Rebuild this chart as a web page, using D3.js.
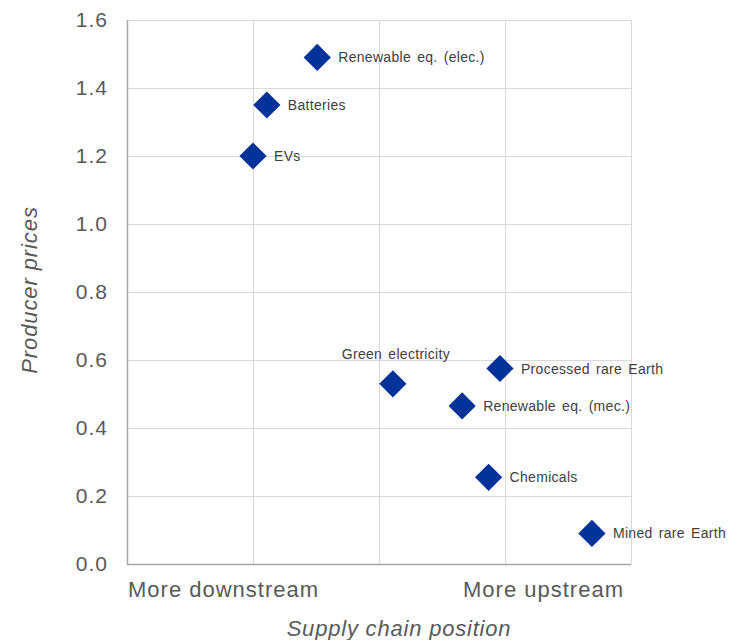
<!DOCTYPE html>
<html>
<head>
<meta charset="utf-8">
<script src="https://cdn.jsdelivr.net/npm/d3@7"></script>
<style>
  html, body { margin: 0; padding: 0; background: #fff; }
  svg { display: block; font-family: "Liberation Sans", Arial, sans-serif; }
</style>
</head>
<body>
<svg id="chart" width="730" height="640"></svg>
<script>
// Products along the supply chain
const products = ["Renewable eq. (elec.)", "Batteries", "EVs", "Green electricity",
  "Processed rare Earth", "Renewable eq. (mec.)", "Chemicals", "Mined rare Earth"];
// Position along the supply chain (0 = most downstream, 4 = most upstream)
const chainPosition = [1.51, 1.11, 1.00, 2.11, 2.96, 2.66, 2.87, 3.69];
// Producer prices
const producerPrices = [1.49, 1.35, 1.20, 0.53, 0.575, 0.465, 0.255, 0.09];
const yTicks = [0, 0.2, 0.4, 0.6, 0.8, 1.0, 1.2, 1.4, 1.6];
const xGrid = [0, 1, 2, 3, 4];
const xEndLabels = ["More downstream", "More upstream"];

const svg = d3.select("#chart");
const margin = { left: 127, right: 99, top: 20, bottom: 76 };
const W = 730 - margin.left - margin.right;
const H = 640 - margin.top - margin.bottom;

const x = d3.scaleLinear().domain([0, 4]).range([0, W]);
const y = d3.scaleLinear().domain([0, 1.6]).range([H, 0]);

const g = svg.append("g").attr("transform", `translate(${margin.left},${margin.top})`);

// Gridlines
g.append("g").selectAll("line").data(yTicks).join("line")
  .attr("x1", 0).attr("x2", W)
  .attr("y1", d => Math.round(y(d)) + 0.5).attr("y2", d => Math.round(y(d)) + 0.5)
  .attr("stroke", "#d9d9d9").attr("stroke-width", 1);
g.append("g").selectAll("line").data(xGrid).join("line")
  .attr("x1", d => Math.round(x(d)) + 0.5).attr("x2", d => Math.round(x(d)) + 0.5)
  .attr("y1", 0).attr("y2", H)
  .attr("stroke", "#d9d9d9").attr("stroke-width", 1);

// Axis lines
g.append("line").attr("x1", 0.5).attr("x2", 0.5).attr("y1", 0).attr("y2", H + 0.5)
  .attr("stroke", "#a6a6a6").attr("stroke-width", 1.5);
g.append("line").attr("x1", 0).attr("x2", W).attr("y1", H + 0.5).attr("y2", H + 0.5)
  .attr("stroke", "#a6a6a6").attr("stroke-width", 1.5);

// Y axis tick labels
const yAxis = d3.axisLeft(y).tickValues(yTicks).tickFormat(d3.format(".1f")).tickSize(0).tickPadding(19);
const ya = g.append("g").call(yAxis);
ya.select(".domain").remove();
ya.selectAll("text")
  .attr("fill", "#595959").style("font-size", "21px").style("letter-spacing", "1px")
  .style("font-family", "'Liberation Sans', Arial, sans-serif");

// Supply-chain end labels
g.append("text").attr("x", 1).attr("y", H + 33)
  .attr("fill", "#595959").style("font-size", "22px").style("letter-spacing", "1px")
  .text(xEndLabels[0]);
g.append("text").attr("x", W - 7).attr("y", H + 33).attr("text-anchor", "end")
  .attr("fill", "#595959").style("font-size", "22px").style("letter-spacing", "1px")
  .text(xEndLabels[1]);

// Axis titles
svg.append("text")
  .attr("transform", `translate(37,${margin.top + 270}) rotate(-90)`)
  .attr("text-anchor", "middle").attr("fill", "#595959")
  .style("font-size", "22px").style("font-style", "italic").style("letter-spacing", "0.9px")
  .text("Producer prices");
svg.append("text")
  .attr("x", 399).attr("y", 636).attr("text-anchor", "middle").attr("fill", "#595959")
  .style("font-size", "22px").style("font-style", "italic").style("letter-spacing", "0.8px")
  .text("Supply chain position");

// Points
const data = products.map((name, i) => ({ name, x: chainPosition[i], y: producerPrices[i] }));
const diamond = d3.symbol().type(d3.symbolSquare).size(370);
g.append("g").selectAll("path").data(data).join("path")
  .attr("d", diamond)
  .attr("transform", d => `translate(${x(d.x)},${y(d.y)}) rotate(45)`)
  .attr("fill", "#003299");

// Point labels (Green electricity sits above its marker)
const labelAbove = new Set(["Green electricity"]);
g.append("g").selectAll("text").data(data).join("text")
  .attr("x", d => labelAbove.has(d.name) ? x(d.x) + 3 : x(d.x) + 21)
  .attr("y", d => labelAbove.has(d.name) ? y(d.y) - 25 : y(d.y) + 5)
  .attr("text-anchor", d => labelAbove.has(d.name) ? "middle" : "start")
  .attr("fill", "#404040").style("font-size", "14px").style("letter-spacing", "0.3px")
  .style("word-spacing", "2px")
  .text(d => d.name);
</script>
</body>
</html>
